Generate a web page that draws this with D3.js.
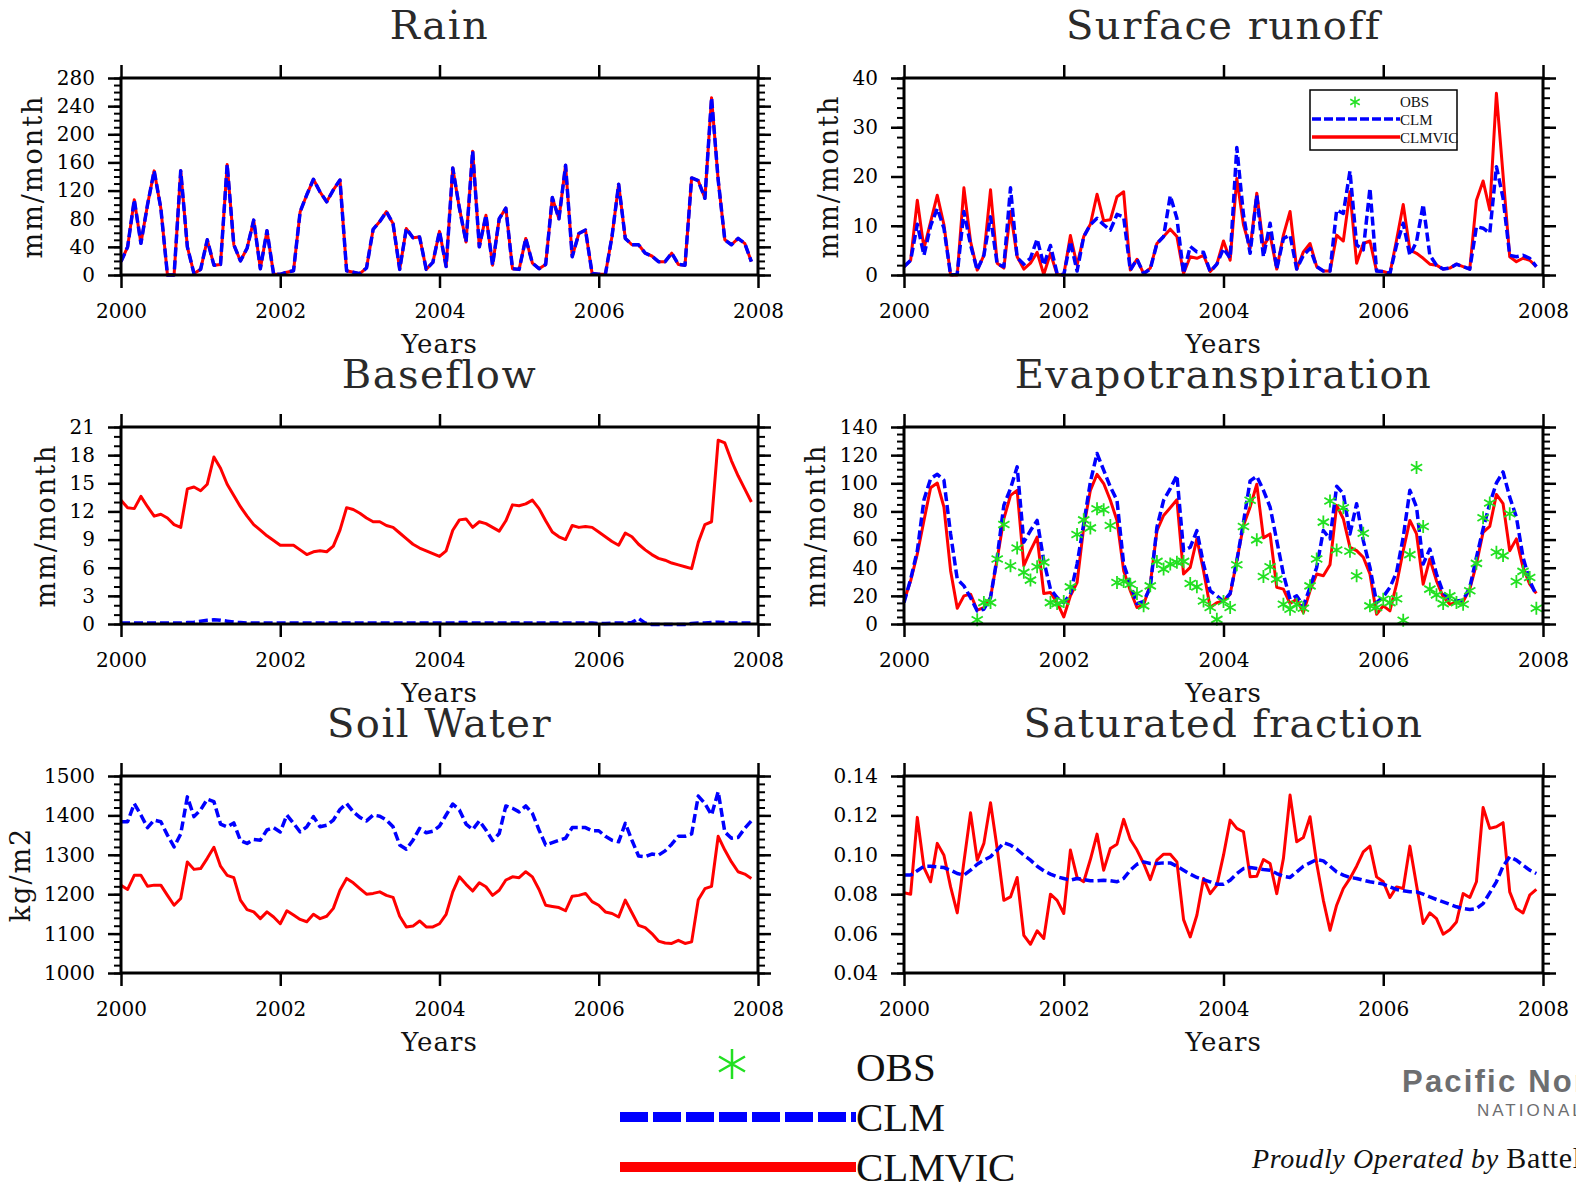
<!DOCTYPE html>
<html><head><meta charset="utf-8">
<script src="https://cdn.jsdelivr.net/npm/d3@7"></script>
<style>body{margin:0;background:#fff}svg{display:block}</style>
</head><body><svg id="c" width="1576" height="1185"></svg>
<script>
// ---------------- data (monthly, Jan 2000 .. Dec 2007) ----------------
const xTickYears = [2000, 2002, 2004, 2006, 2008];
const seriesNames = ["OBS", "CLM", "CLMVIC"];

const rain = [
 19,40,107,45,100,148,95,0,0,148,40,2,
 8,50,14,15,157,43,20,38,78,9,63,1,
 1,4,6,90,114,136,118,104,121,135,6,4,
 2,10,65,76,90,73,8,66,53,54,8,18,
 62,12,152,95,47,176,40,85,14,80,95,9,
 8,52,17,9,15,110,80,156,26,59,64,2,
 1,1,55,129,52,43,43,31,27,19,19,31,
 15,14,138,134,109,252,135,50,43,52,45,19];

const runoffCLMVIC = [
 1.7,3,15.2,5.4,10.8,16.2,10.2,0,0,17.7,6.8,1,
 4,17.3,2.4,1.4,12.9,3.7,1.2,2.4,4.6,0.1,4.4,0.1,
 0,8,2,7.8,10.3,16.4,11,11.2,15.9,16.9,1,3.2,
 0.3,1.4,6.4,7.8,9.3,7.8,0.3,3.7,3.4,4,0.7,2.2,
 6.9,3,19.6,10.2,5.4,16.6,5.8,8.1,1.2,8.1,12.9,1.2,
 4.7,6.4,1.7,0.8,0.8,8.1,6.9,16.9,2.4,6.4,6.9,0.8,
 0.7,0.3,7.1,14.3,5.1,4.4,3.4,2.2,2,1.2,1.4,2.2,
 1.7,1.2,15.2,19.1,13.2,36.9,20.3,3.7,2.7,3.4,3,1.7];
const runoffCLM = [
 1.7,3,10.3,4,10,13.5,9.5,0,0.3,12.9,6.1,1,
 4,11.8,2.2,1.7,17.7,3.5,2.2,3.4,7.3,2,6,0.3,
 0,6.8,0.8,7.8,10.2,11.5,10.2,9.1,12.3,11.8,1,3.2,
 0.3,1.2,6.4,7.8,16.1,11.5,0.3,5.8,4.7,4.6,0.7,2.2,
 5.4,3.4,25.9,12.2,4.4,16.2,3.7,10.5,1.2,7.4,8.1,1.2,
 4,5.4,1.7,0.8,0.8,13.2,12.5,21.1,6.1,5.1,17.6,0.8,
 0.7,0.3,6.1,10.5,4,6.8,14.3,4,2,1.2,1.4,2.2,
 1.7,1.2,9.8,9.5,8.5,22,15.6,4,3.7,4,3.4,1.7];

const baseflowCLMVIC = [
 13.2,12.4,12.3,13.6,12.5,11.5,11.7,11.3,10.6,10.3,14.4,14.6,
 14.2,14.9,17.8,16.6,14.9,13.7,12.5,11.5,10.6,10.0,9.4,8.9,
 8.4,8.4,8.4,7.9,7.4,7.7,7.8,7.7,8.3,10.0,12.4,12.2,
 11.8,11.3,10.9,10.9,10.5,10.3,9.7,9.1,8.5,8.1,7.8,7.5,
 7.2,7.8,10.0,11.1,11.2,10.3,10.9,10.7,10.3,9.9,11.0,12.7,
 12.6,12.8,13.2,12.3,11.0,9.8,9.3,9.0,10.5,10.3,10.4,10.3,
 9.8,9.3,8.8,8.4,9.7,9.3,8.5,7.9,7.4,7.0,6.8,6.5,
 6.3,6.1,5.9,8.7,10.6,10.9,19.6,19.3,17.4,15.8,14.4,13.0];
const baseflowCLM = [
 0.1,0.1,0.1,0.1,0.1,0.1,0.1,0.1,0.1,0.1,0.15,0.2,
 0.3,0.4,0.45,0.4,0.3,0.2,0.15,0.1,0.1,0.1,0.1,0.1,
 0.1,0.1,0.1,0.1,0.1,0.1,0.1,0.1,0.1,0.1,0.1,0.1,
 0.1,0.1,0.1,0.1,0.1,0.1,0.1,0.1,0.1,0.1,0.1,0.1,
 0.1,0.1,0.1,0.15,0.15,0.1,0.1,0.1,0.1,0.1,0.1,0.1,
 0.1,0.1,0.1,0.1,0.1,0.1,0.1,0.1,0.1,0.1,0.1,0.1,
 0.05,0.05,0.1,0.1,0.1,0.15,0.6,0.1,-0.05,-0.05,-0.05,-0.05,
 -0.05,-0.05,0.05,0.1,0.1,0.15,0.2,0.15,0.1,0.1,0.1,0.1];

const etCLMVIC = [
 16.4,30.7,49.8,73.6,96.9,100.2,83.1,37.9,11.2,20,21.2,9.8,
 11.7,18.8,46.2,74.8,91.4,95,41.4,52.1,61.7,21.7,22.4,15.2,
 5,20,29.5,68.8,95,106.4,99.8,87.9,73.6,37.9,23.6,11.7,
 13.6,28.3,66.4,77.1,82.6,88.3,35.5,40.2,60.5,37.9,11.7,15.2,
 16.4,21.2,45,70,83.1,99.3,61.2,64,26,24.8,14.5,17.6,
 8.1,23.6,35.5,34.3,42.1,84.3,74.8,54.5,52.1,47.4,35.5,6.9,
 12.9,9.3,28.3,52.1,73.6,64,28.3,46.2,30.7,19.3,14,15.2,
 16,24.8,42.6,65.2,69.3,92.1,85.5,52.1,60.5,40.2,28.3,21.7];
const etCLM = [
 15.2,31.9,52.1,88.3,103.3,106.4,102.1,64,31.9,27.1,18.8,9.3,
 10.5,18.8,47.4,84.3,96.2,111.7,58.1,66.4,73.6,45,24.8,18.8,
 15.2,21.2,42.6,71.2,101,121.2,109.3,97.4,87.9,42.6,28.3,14.5,
 16,26,68.8,87.9,96.2,105.7,52.1,54.5,66.4,42.6,23.6,20,
 16,21.7,45,72.4,101.7,105,95,83.1,59.3,35.5,17.6,20,
 12.9,26,40.2,66.4,60.5,97.9,92.6,64,85.5,59.3,40.2,15.2,
 19.3,26,36.7,61.7,95,83.1,42.6,53.3,35.5,22.4,17.6,16.4,
 16.9,26,47.4,67.6,85.5,100.2,108.1,90.2,76,47.4,30.7,20.5];
const etOBS = [
 null,null,null,null,null,null,null,null,null,null,null,3,
 15.2,15.2,46.2,70.7,41.4,54,36.7,31.2,40.7,43.8,15.2,14.5,
 16,26.4,63.6,74,68.3,81.9,81.2,70,29.5,30.2,28.3,21.7,
 12.9,27.1,44.5,39,42.6,43.8,44.5,28.8,26.4,16.4,11.7,3.3,
 16,11.7,42.1,69.3,87.9,59.8,33.8,40.7,31.9,14,10.5,14,
 11.2,27.1,46.2,72.4,87.4,52.6,82.6,51.7,34.3,64.5,12.9,11.7,
 17.6,15.2,18,2.6,49.3,111.2,69.3,24.8,20.7,14.5,20,15.2,
 14,23.6,43.1,75.5,86,51,48.6,78.3,30.2,37.4,33.1,11.2];

const soilCLM = [
 1384,1384,1430,1401,1369,1388,1384,1350,1320,1353,1447,1397,
 1414,1441,1435,1378,1371,1381,1336,1329,1339,1337,1363,1369,
 1358,1401,1380,1358,1371,1397,1371,1375,1388,1415,1430,1409,
 1395,1386,1401,1398,1388,1371,1325,1314,1337,1367,1356,1360,
 1373,1401,1429,1414,1378,1364,1386,1363,1336,1354,1424,1418,
 1409,1424,1405,1363,1325,1331,1337,1342,1369,1369,1369,1361,
 1361,1347,1337,1333,1380,1337,1297,1295,1302,1299,1310,1327,
 1347,1347,1353,1449,1430,1401,1460,1358,1342,1344,1367,1386];
const soilCLMVIC = [
 1223,1212,1248,1248,1220,1223,1223,1197,1172,1189,1282,1263,
 1265,1291,1319,1271,1248,1242,1185,1161,1155,1138,1155,1142,
 1125,1158,1147,1136,1130,1149,1138,1144,1164,1210,1240,1229,
 1214,1200,1202,1206,1197,1192,1144,1117,1119,1132,1117,1117,
 1125,1149,1206,1244,1225,1208,1229,1219,1197,1210,1236,1244,
 1242,1257,1244,1212,1172,1169,1166,1158,1195,1197,1202,1181,
 1172,1155,1151,1142,1185,1153,1121,1115,1100,1081,1076,1075,
 1083,1075,1079,1186,1214,1220,1347,1312,1282,1257,1251,1240];

const satCLMVIC = [
 .0807,.080,.119,.0935,.0863,.1058,.0998,.0837,.0705,.0964,.1213,.0973,
 .1058,.1264,.1032,.0769,.0786,.0885,.0591,.0546,.0614,.0575,.0800,.0769,
 .0702,.1024,.0885,.0863,.0976,.1105,.0922,.1032,.1054,.118,.1078,.1024,
 .0956,.0874,.0973,.1003,.1003,.0964,.0671,.0583,.0693,.088,.0803,.0846,
 .0998,.1176,.1134,.1117,.0888,.0891,.0976,.0956,.0803,.0981,.1303,.1066,
 .1088,.1193,.0956,.0769,.0617,.0744,.0829,.088,.0942,.1015,.1044,.0888,
 .0863,.0783,.0837,.0829,.1044,.0846,.0651,.0705,.0676,.0597,.062,.0659,
 .0803,.0783,.0863,.124,.1134,.1142,.1163,.0812,.0727,.0705,.0795,.0824];
const satCLM = [
 .0897,.0897,.0919,.0942,.0942,.0939,.0935,.0922,.0905,.0897,.0922,.0952,
 .0973,.099,.1024,.1061,.1049,.1027,.0998,.0973,.0942,.0919,.0902,.0888,
 .088,.0871,.088,.0874,.0868,.0868,.0871,.0868,.0863,.088,.0922,.0952,
 .0964,.0956,.0956,.0959,.0959,.0942,.0922,.0902,.0885,.0874,.0863,.0851,
 .0851,.0871,.0905,.093,.0935,.093,.0925,.0922,.0905,.0891,.0885,.0913,
 .0942,.0959,.0976,.0969,.0942,.0913,.0897,.0885,.088,.0871,.0863,.0858,
 .0851,.0837,.0824,.0817,.0812,.0812,.08,.0786,.0773,.0761,.0749,.0736,
 .0727,.0722,.0727,.0752,.0807,.0863,.0942,.099,.0973,.0947,.0922,.0905];

// y tick definitions
const rainTicks = [0,40,80,120,160,200,240,280];
const runoffTicks = [0,10,20,30,40];
const baseflowTicks = [0,3,6,9,12,15,18,21];
const etTicks = [0,20,40,60,80,100,120,140];
const soilTicks = [1000,1100,1200,1300,1400,1500];
const satTicks = [0.04,0.06,0.08,0.10,0.12,0.14];

// ---------------- drawing ----------------
const COL = {OBS:"#22e022", CLM:"#0000ff", CLMVIC:"#ff0000"};
const SERIF = "'DejaVu Serif', serif";
const svg = d3.select("#c");
const cols = [{x0:121, w:637}, {x0:904, w:639}];
const rows = [78, 427, 776];
const H = 197;

function asteriskPath(r){
  const c = r*Math.cos(Math.PI/6), s = r*Math.sin(Math.PI/6);
  return `M0,${-r}L0,${r}M${-c},${-s}L${c},${s}M${-c},${s}L${c},${-s}`;
}

function panel(p){
  const {x0, w} = cols[p.col];
  const y0 = rows[p.row];
  const x = d3.scaleLinear().domain([2000,2008]).range([x0, x0+w]);
  const y = d3.scaleLinear().domain([p.ticks[0], p.ticks[p.ticks.length-1]]).range([y0+H, y0]);
  const g = svg.append("g");
  const minor = d3.range(p.ticks[0], p.ticks[p.ticks.length-1] + p.minor/2, p.minor);

  const style = (sel, sw) => { sel.select(".domain").remove(); sel.selectAll("line").attr("stroke","#000").attr("stroke-width",sw); };
  g.append("g").attr("transform",`translate(${x0},0)`).call(d3.axisLeft(y).tickValues(minor).tickSize(7).tickFormat("")).call(s=>style(s,2));
  g.append("g").attr("transform",`translate(${x0+w},0)`).call(d3.axisRight(y).tickValues(minor).tickSize(7).tickFormat("")).call(s=>style(s,2));
  const yl = g.append("g").attr("transform",`translate(${x0},0)`)
    .call(d3.axisLeft(y).tickValues(p.ticks).tickSize(13).tickPadding(13).tickFormat(p.fmt || (d=>d)));
  style(yl, 2.5);
  yl.selectAll("text").attr("font-family",SERIF).attr("font-size",20).attr("fill","#000");
  g.append("g").attr("transform",`translate(${x0+w},0)`).call(d3.axisRight(y).tickValues(p.ticks).tickSize(13).tickFormat("")).call(s=>style(s,2.5));
  g.append("g").attr("transform",`translate(0,${y0})`).call(d3.axisTop(x).tickValues(xTickYears).tickSize(13).tickFormat("")).call(s=>style(s,2.5));
  const xl = g.append("g").attr("transform",`translate(0,${y0+H})`)
    .call(d3.axisBottom(x).tickValues(xTickYears).tickSize(13).tickPadding(16).tickFormat(d3.format("d")));
  style(xl, 2.5);
  xl.selectAll("text").attr("font-family",SERIF).attr("font-size",20).attr("fill","#000");

  // series
  const line = d3.line().defined(d=>d!=null).x((d,i)=>x(2000+i/12)).y(d=>y(d));
  p.series.filter(s=>s.name!=="OBS").forEach(s=>{
    g.append("path").datum(s.data).attr("d",line).attr("fill","none")
      .attr("stroke",COL[s.name]).attr("stroke-width", s.name==="CLM"?3.5:3)
      .attr("stroke-linejoin","round")
      .attr("stroke-dasharray", s.name==="CLM" ? "9,4" : null);
  });
  p.series.filter(s=>s.name==="OBS").forEach(s=>{
    g.append("g").selectAll("path").data(s.data.map((d,i)=>({d,i})).filter(o=>o.d!=null))
      .join("path").attr("d",asteriskPath(6.5))
      .attr("transform",o=>`translate(${x(2000+o.i/12)},${y(o.d)})`)
      .attr("stroke",COL.OBS).attr("stroke-width",1.8).attr("fill","none");
  });

  // box
  g.append("rect").attr("x",x0).attr("y",y0).attr("width",w).attr("height",H)
    .attr("fill","none").attr("stroke","#000").attr("stroke-width",3);

  // titles & labels
  g.append("text").attr("x",x0+w/2).attr("y",y0-39).attr("text-anchor","middle")
    .attr("font-family",SERIF).attr("font-size",40).attr("letter-spacing",1.5).attr("fill","#2a2a2a").text(p.title);
  g.append("text").attr("x",x0+w/2).attr("y",y0+H+78).attr("text-anchor","middle")
    .attr("font-family",SERIF).attr("font-size",26).attr("letter-spacing",1).attr("fill","#111").text("Years");
  if (p.ylabel){
    const lw = d3.max(yl.selectAll("text").nodes(), n=>n.getComputedTextLength());
    const cx = x0 - 26 - lw - 24;
    g.append("text").attr("transform",`translate(${cx},${y0+H/2}) rotate(-90)`)
      .attr("text-anchor","middle").attr("dy","0.35em").attr("font-family",SERIF)
      .attr("font-size",27).attr("letter-spacing",2).attr("fill","#111").text(p.ylabel);
  }
  return {x, y, g, x0, y0, w};
}

panel({col:0,row:0,title:"Rain",ticks:rainTicks,minor:10,ylabel:"mm/month",
  series:[{name:"CLMVIC",data:rain},{name:"CLM",data:rain}]});
panel({col:1,row:0,title:"Surface runoff",ticks:runoffTicks,minor:2,ylabel:"mm/month",
  series:[{name:"CLMVIC",data:runoffCLMVIC},{name:"CLM",data:runoffCLM}]});
panel({col:0,row:1,title:"Baseflow",ticks:baseflowTicks,minor:1,ylabel:"mm/month",
  series:[{name:"CLMVIC",data:baseflowCLMVIC},{name:"CLM",data:baseflowCLM}]});
panel({col:1,row:1,title:"Evapotranspiration",ticks:etTicks,minor:5,ylabel:"mm/month",
  series:[{name:"CLMVIC",data:etCLMVIC},{name:"CLM",data:etCLM},{name:"OBS",data:etOBS}]});
panel({col:0,row:2,title:"Soil Water",ticks:soilTicks,minor:20,ylabel:"kg/m2",
  series:[{name:"CLMVIC",data:soilCLMVIC},{name:"CLM",data:soilCLM}]});
panel({col:1,row:2,title:"Saturated fraction",ticks:satTicks,minor:0.005,fmt:d3.format(".2f"),
  series:[{name:"CLMVIC",data:satCLMVIC},{name:"CLM",data:satCLM}]});

// inset legend (Surface runoff)
const leg = svg.append("g");
leg.append("rect").attr("x",1310).attr("y",90).attr("width",147).attr("height",60)
  .attr("fill","#fff").attr("stroke","#000").attr("stroke-width",1.5);
leg.append("path").attr("d",asteriskPath(5.5)).attr("transform","translate(1355,102)")
  .attr("stroke",COL.OBS).attr("stroke-width",1.5).attr("fill","none");
leg.append("line").attr("x1",1312).attr("x2",1400).attr("y1",119).attr("y2",119)
  .attr("stroke",COL.CLM).attr("stroke-width",3.5).attr("stroke-dasharray","9,3");
leg.append("line").attr("x1",1312).attr("x2",1400).attr("y1",137).attr("y2",137)
  .attr("stroke",COL.CLMVIC).attr("stroke-width",3.5);
seriesNames.forEach((n,i)=>{
  leg.append("text").attr("x",1400).attr("y",107+i*18).attr("font-family","'Liberation Serif', serif")
    .attr("font-size",15).attr("fill","#111").text(n);
});

// bottom legend
const bl = svg.append("g");
bl.append("path").attr("d",asteriskPath(15)).attr("transform","translate(732,1064)")
  .attr("stroke",COL.OBS).attr("stroke-width",2.5).attr("fill","none");
bl.append("line").attr("x1",620).attr("x2",856).attr("y1",1117).attr("y2",1117)
  .attr("stroke",COL.CLM).attr("stroke-width",10).attr("stroke-dasharray","28,5");
bl.append("line").attr("x1",620).attr("x2",856).attr("y1",1167).attr("y2",1167)
  .attr("stroke",COL.CLMVIC).attr("stroke-width",10);
seriesNames.forEach((n,i)=>{
  bl.append("text").attr("x",856).attr("y",1081+i*50).attr("font-family","'Liberation Serif', serif")
    .attr("font-size",41).attr("fill","#111").text(n);
});

// logo text
svg.append("text").attr("x",1402).attr("y",1092).attr("font-family","'Liberation Sans', Arial, sans-serif")
  .attr("font-weight","bold").attr("font-size",31).attr("letter-spacing",2.2).attr("fill","#6d6e70").text("Pacific Northwest");
svg.append("text").attr("x",1477).attr("y",1116).attr("font-family","'Liberation Sans', Arial, sans-serif")
  .attr("font-size",17).attr("letter-spacing",3).attr("fill","#6d6e70").text("NATIONAL LABORATORY");
const po = svg.append("text").attr("x",1252).attr("y",1168).attr("font-family","'Liberation Serif', serif")
  .attr("font-size",28).attr("letter-spacing",0.6).attr("fill","#111");
po.append("tspan").attr("font-style","italic").text("Proudly Operated by ");
po.append("tspan").attr("font-size",30).text("Battelle Since 1965");
</script></body></html>
